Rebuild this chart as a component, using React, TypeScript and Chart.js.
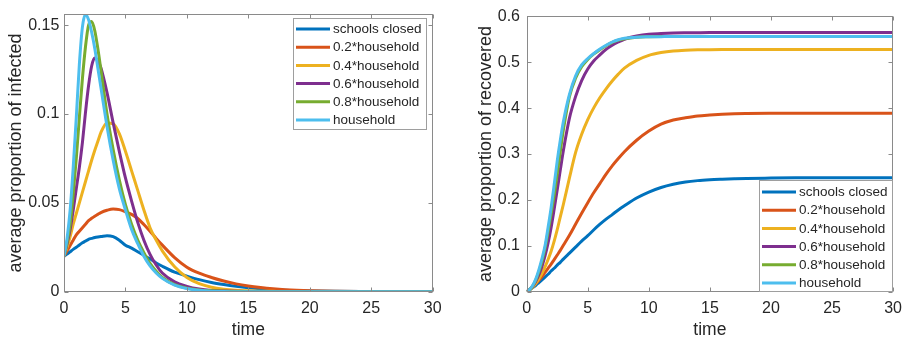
import React, { useEffect, useRef } from 'react';
import { Chart, registerables } from 'chart.js';

Chart.register(...registerables);
Chart.defaults.font.family = '"Liberation Sans", Arial, Helvetica, sans-serif';

// ---------- data ----------
const time = [0, 0.25, 0.5, 0.75, 1, 1.25, 1.5, 1.75, 2, 2.25, 2.5, 2.75, 3, 3.5, 4, 4.5, 5, 5.5, 6, 6.5, 7, 7.5, 8, 9, 10, 11, 12, 13, 14, 15, 16, 17, 18, 20, 22, 25, 30];

const seriesLabels = ['schools closed', '0.2*household', '0.4*household', '0.6*household', '0.8*household', 'household'];
const seriesColors = ['#0072BD', '#D95319', '#EDB120', '#7E2F8E', '#77AC30', '#4DBEEE'];

const xTickValues = [0, 5, 10, 15, 20, 25, 30];
const leftYTickValues = [0, 0.05, 0.1, 0.15];
const rightYTickValues = [0, 0.1, 0.2, 0.3, 0.4, 0.5, 0.6];

// infected (left panel)
const infSchools = [0.020, 0.0212, 0.0225, 0.0238, 0.025, 0.0263, 0.0275, 0.0285, 0.0295, 0.030, 0.0305, 0.0308, 0.031, 0.0315, 0.031, 0.029, 0.0262, 0.0245, 0.0225, 0.0205, 0.0185, 0.0162, 0.0143, 0.011, 0.0088, 0.0068, 0.0052, 0.004, 0.003, 0.0022, 0.0016, 0.0012, 0.0008, 0.0004, 0.0002, 0.0001, 0];
const inf02 = [0.020, 0.023, 0.026, 0.029, 0.032, 0.034, 0.036, 0.038, 0.040, 0.0413, 0.0425, 0.0435, 0.0445, 0.0458, 0.0465, 0.0462, 0.045, 0.0435, 0.0412, 0.0378, 0.034, 0.030, 0.0262, 0.0192, 0.0138, 0.0104, 0.008, 0.006, 0.0044, 0.0032, 0.0023, 0.0016, 0.0011, 0.0005, 0.0002, 0.0001, 0];
const inf04 = [0.020, 0.025, 0.031, 0.038, 0.044, 0.050, 0.056, 0.062, 0.068, 0.074, 0.0795, 0.0845, 0.0895, 0.095, 0.0945, 0.089, 0.079, 0.068, 0.057, 0.046, 0.036, 0.029, 0.023, 0.014, 0.008, 0.0045, 0.0025, 0.0014, 0.0008, 0.0005, 0.0003, 0.0002, 0.0001, 0, 0, 0, 0];
const inf06 = [0.020, 0.027, 0.035, 0.046, 0.058, 0.070, 0.084, 0.101, 0.116, 0.127, 0.1315, 0.130, 0.126, 0.112, 0.095, 0.079, 0.064, 0.051, 0.039, 0.029, 0.021, 0.015, 0.0105, 0.0055, 0.003, 0.0015, 0.0007, 0.0004, 0.0002, 0.0001, 0, 0, 0, 0, 0, 0, 0];
const inf08 = [0.020, 0.028, 0.038, 0.055, 0.075, 0.098, 0.120, 0.138, 0.150, 0.152, 0.147, 0.137, 0.125, 0.100, 0.080, 0.063, 0.049, 0.038, 0.029, 0.022, 0.016, 0.0115, 0.008, 0.004, 0.002, 0.001, 0.0005, 0.0002, 0.0001, 0, 0, 0, 0, 0, 0, 0, 0];
const infHousehold = [0.020, 0.030, 0.046, 0.070, 0.098, 0.128, 0.149, 0.156, 0.153, 0.146, 0.137, 0.126, 0.115, 0.093, 0.074, 0.058, 0.046, 0.035, 0.027, 0.020, 0.0145, 0.0105, 0.0075, 0.0037, 0.0018, 0.0008, 0.0003, 0.0001, 0, 0, 0, 0, 0, 0, 0, 0, 0];

// recovered (right panel)
const recSchools = [0, 0.004, 0.009, 0.014, 0.020, 0.026, 0.032, 0.038, 0.045, 0.051, 0.058, 0.064, 0.071, 0.084, 0.097, 0.110, 0.122, 0.135, 0.147, 0.158, 0.168, 0.178, 0.187, 0.204, 0.217, 0.227, 0.234, 0.239, 0.242, 0.2438, 0.245, 0.246, 0.2468, 0.2475, 0.248, 0.2483, 0.2485];
const rec02 = [0, 0.005, 0.011, 0.018, 0.025, 0.033, 0.042, 0.051, 0.060, 0.070, 0.080, 0.090, 0.101, 0.123, 0.147, 0.171, 0.194, 0.216, 0.236, 0.256, 0.274, 0.290, 0.305, 0.330, 0.350, 0.365, 0.374, 0.379, 0.383, 0.385, 0.3865, 0.3875, 0.388, 0.3886, 0.389, 0.389, 0.389];
const rec04 = [0, 0.004, 0.010, 0.018, 0.028, 0.040, 0.054, 0.070, 0.088, 0.110, 0.135, 0.163, 0.190, 0.248, 0.303, 0.343, 0.375, 0.401, 0.423, 0.442, 0.459, 0.474, 0.487, 0.504, 0.515, 0.521, 0.5245, 0.5262, 0.527, 0.5273, 0.5275, 0.5276, 0.5276, 0.5276, 0.5276, 0.5276, 0.5276];
const rec06 = [0, 0.005, 0.012, 0.023, 0.037, 0.055, 0.078, 0.106, 0.140, 0.180, 0.222, 0.265, 0.307, 0.378, 0.425, 0.460, 0.485, 0.503, 0.516, 0.528, 0.537, 0.544, 0.550, 0.557, 0.561, 0.5625, 0.5635, 0.564, 0.5643, 0.5645, 0.5645, 0.5645, 0.5645, 0.5645, 0.5645, 0.5645, 0.5645];
const rec08 = [0, 0.005, 0.013, 0.026, 0.044, 0.066, 0.094, 0.130, 0.170, 0.210, 0.257, 0.305, 0.352, 0.425, 0.465, 0.490, 0.506, 0.518, 0.527, 0.536, 0.543, 0.548, 0.551, 0.5545, 0.5555, 0.556, 0.5562, 0.5562, 0.5562, 0.5562, 0.5562, 0.5562, 0.5562, 0.5562, 0.5562, 0.5562, 0.5562];
const recHousehold = [0, 0.005, 0.014, 0.028, 0.048, 0.072, 0.100, 0.140, 0.183, 0.233, 0.285, 0.330, 0.370, 0.430, 0.470, 0.494, 0.508, 0.519, 0.529, 0.537, 0.544, 0.549, 0.552, 0.5545, 0.5553, 0.5557, 0.556, 0.556, 0.556, 0.556, 0.556, 0.556, 0.556, 0.556, 0.556, 0.556, 0.556];

// ---------- styling ----------
const TEXT = '#262626';
const AXIS_COLOR = '#8a8a8a';
const LEGEND_BORDER = '#9e9e9e';
const TICK_LEN = 4;
const LEG_FONT = 13.5;

const framePlugin = {
  id: 'matFrame',
  afterDatasetsDraw(chart: any) {
    const { ctx, chartArea: ca, scales } = chart;
    const L = Math.round(ca.left) + 0.5;
    const R = Math.round(ca.right) - 0.5;
    const T = Math.round(ca.top) + 0.5;
    const B = Math.round(ca.bottom) - 0.5;
    ctx.save();
    ctx.strokeStyle = AXIS_COLOR;
    ctx.lineWidth = 1;
    ctx.beginPath();
    scales.x.ticks.forEach((t: any) => {
      const p = Math.round(scales.x.getPixelForValue(t.value)) + 0.5;
      ctx.moveTo(p, B); ctx.lineTo(p, B - TICK_LEN);
      ctx.moveTo(p, T); ctx.lineTo(p, T + TICK_LEN);
    });
    scales.y.ticks.forEach((t: any) => {
      const p = Math.round(scales.y.getPixelForValue(t.value)) + 0.5;
      ctx.moveTo(L, p); ctx.lineTo(L + TICK_LEN, p);
      ctx.moveTo(R, p); ctx.lineTo(R - TICK_LEN, p);
    });
    ctx.stroke();
    ctx.strokeRect(L, T, R - L, B - T);
    ctx.restore();
  },
};

const legendPlugin = {
  id: 'matLegend',
  afterDraw(chart: any, _args: any, opts: any) {
    const { ctx, chartArea: ca } = chart;
    const ds = chart.data.datasets;
    ctx.save();
    ctx.font = `${LEG_FONT}px "Liberation Sans", Arial, sans-serif`;
    const textW = Math.max(...ds.map((d: any) => ctx.measureText(d.label).width));
    const w = Math.round(40 + textW + 4.5);
    const h = opts.height;
    let x0: number, y0: number;
    if (opts.corner === 'ne') {
      x0 = Math.round(ca.right - opts.insetRight - w);
      y0 = Math.round(ca.top + opts.insetTop);
    } else {
      x0 = Math.round(ca.right) - 1 - w;
      y0 = Math.round(ca.bottom) - 1 - h;
    }
    ctx.fillStyle = '#ffffff';
    ctx.fillRect(x0, y0, w, h);
    ctx.strokeStyle = LEGEND_BORDER;
    ctx.lineWidth = 1;
    ctx.strokeRect(x0 + 0.5, y0 + 0.5, w, h);
    ds.forEach((d: any, i: number) => {
      const cy = y0 + opts.firstRow + i * opts.rowStep;
      ctx.strokeStyle = d.borderColor;
      ctx.lineWidth = 3;
      ctx.beginPath();
      ctx.moveTo(x0 + 3, cy);
      ctx.lineTo(x0 + 37, cy);
      ctx.stroke();
      ctx.fillStyle = TEXT;
      ctx.textAlign = 'left';
      ctx.textBaseline = 'middle';
      ctx.fillText(d.label, x0 + 40, cy + 0.5);
    });
    ctx.restore();
  },
};

type PanelCfg = {
  series: number[][];
  yMax: number;
  yTicks: number[];
  yTitle: string;
  padRight: number;
  yWidth: number;
  yTickPad: number;
  yTitlePad: number;
  legend: any;
};

function buildConfig(p: PanelCfg): any {
  return {
    type: 'line',
    data: {
      datasets: p.series.map((vals, i) => ({
        label: seriesLabels[i],
        data: time.map((t, j) => ({ x: t, y: vals[j] })),
        borderColor: seriesColors[i],
        backgroundColor: seriesColors[i],
        borderWidth: 3,
        pointRadius: 0,
        fill: false,
        cubicInterpolationMode: 'monotone',
        order: seriesLabels.length - i,
      })),
    },
    options: {
      animation: false,
      responsive: false,
      devicePixelRatio: 1,
      events: [],
      layout: { padding: { left: 0, right: p.padRight, top: 10, bottom: 0 } },
      plugins: {
        legend: { display: false },
        tooltip: { enabled: false },
        matLegend: p.legend,
      },
      scales: {
        x: {
          type: 'linear',
          min: 0,
          max: 30,
          afterBuildTicks: (s: any) => { s.ticks = xTickValues.map((v) => ({ value: v })); },
          ticks: {
            color: TEXT,
            font: { size: 16 },
            padding: 7,
            maxRotation: 0,
            autoSkip: false,
            callback: (v: any) => String(v),
          },
          grid: { display: false, drawTicks: false },
          border: { display: false },
          title: { display: true, text: 'time', color: TEXT, font: { size: 17.5 }, padding: { top: 0, bottom: 1.5 } },
          afterFit: (s: any) => { s.height = 50.3; },
        },
        y: {
          type: 'linear',
          min: 0,
          max: p.yMax,
          afterBuildTicks: (s: any) => { s.ticks = p.yTicks.map((v) => ({ value: v })); },
          ticks: {
            color: TEXT,
            font: { size: 16 },
            padding: p.yTickPad,
            callback: (v: any) => String(+Number(v).toFixed(2)),
          },
          grid: { display: false, drawTicks: false },
          border: { display: false },
          title: { display: true, text: p.yTitle, color: TEXT, font: { size: 18 }, padding: { top: p.yTitlePad, bottom: 0 } },
          afterFit: (s: any) => { s.width = p.yWidth; },
        },
      },
    },
    plugins: [framePlugin, legendPlugin],
  };
}

function Panel({ cfg, width, left }: { cfg: PanelCfg; width: number; left: number }) {
  const ref = useRef<HTMLCanvasElement | null>(null);
  useEffect(() => {
    if (!ref.current) return;
    const chart = new Chart(ref.current, buildConfig(cfg));
    return () => chart.destroy();
  }, []);
  return (
    <canvas
      ref={ref}
      width={width}
      height={342}
      style={{ position: 'absolute', left, top: 0, width, height: 342, display: 'block' }}
    />
  );
}

const leftCfg: PanelCfg = {
  series: [infSchools, inf02, inf04, inf06, inf08, infHousehold],
  yMax: 0.1561,
  yTicks: leftYTickValues,
  yTitle: 'average proportion of infected',
  padRight: 455 - 432.7,
  yWidth: 64,
  yTickPad: 4.7,
  yTitlePad: 5.2,
  legend: { corner: 'ne', insetRight: 6.7, insetTop: 4, height: 111, firstRow: 11, rowStep: 18.2 },
};

const rightCfg: PanelCfg = {
  series: [recSchools, rec02, rec04, rec06, rec08, recHousehold],
  yMax: 0.6,
  yTicks: rightYTickValues,
  yTitle: 'average proportion of recovered',
  padRight: 454 - 440,
  yWidth: 71.7,
  yTickPad: 6.7,
  yTitlePad: 20.2,
  legend: { corner: 'se', height: 111, firstRow: 12, rowStep: 18.2 },
};

export default function App() {
  return (
    <div style={{ position: 'absolute', left: 0, top: 0, width: 909, height: 342, background: '#ffffff', overflow: 'hidden' }}>
      <Panel cfg={leftCfg} width={455} left={0} />
      <Panel cfg={rightCfg} width={454} left={455} />
    </div>
  );
}
